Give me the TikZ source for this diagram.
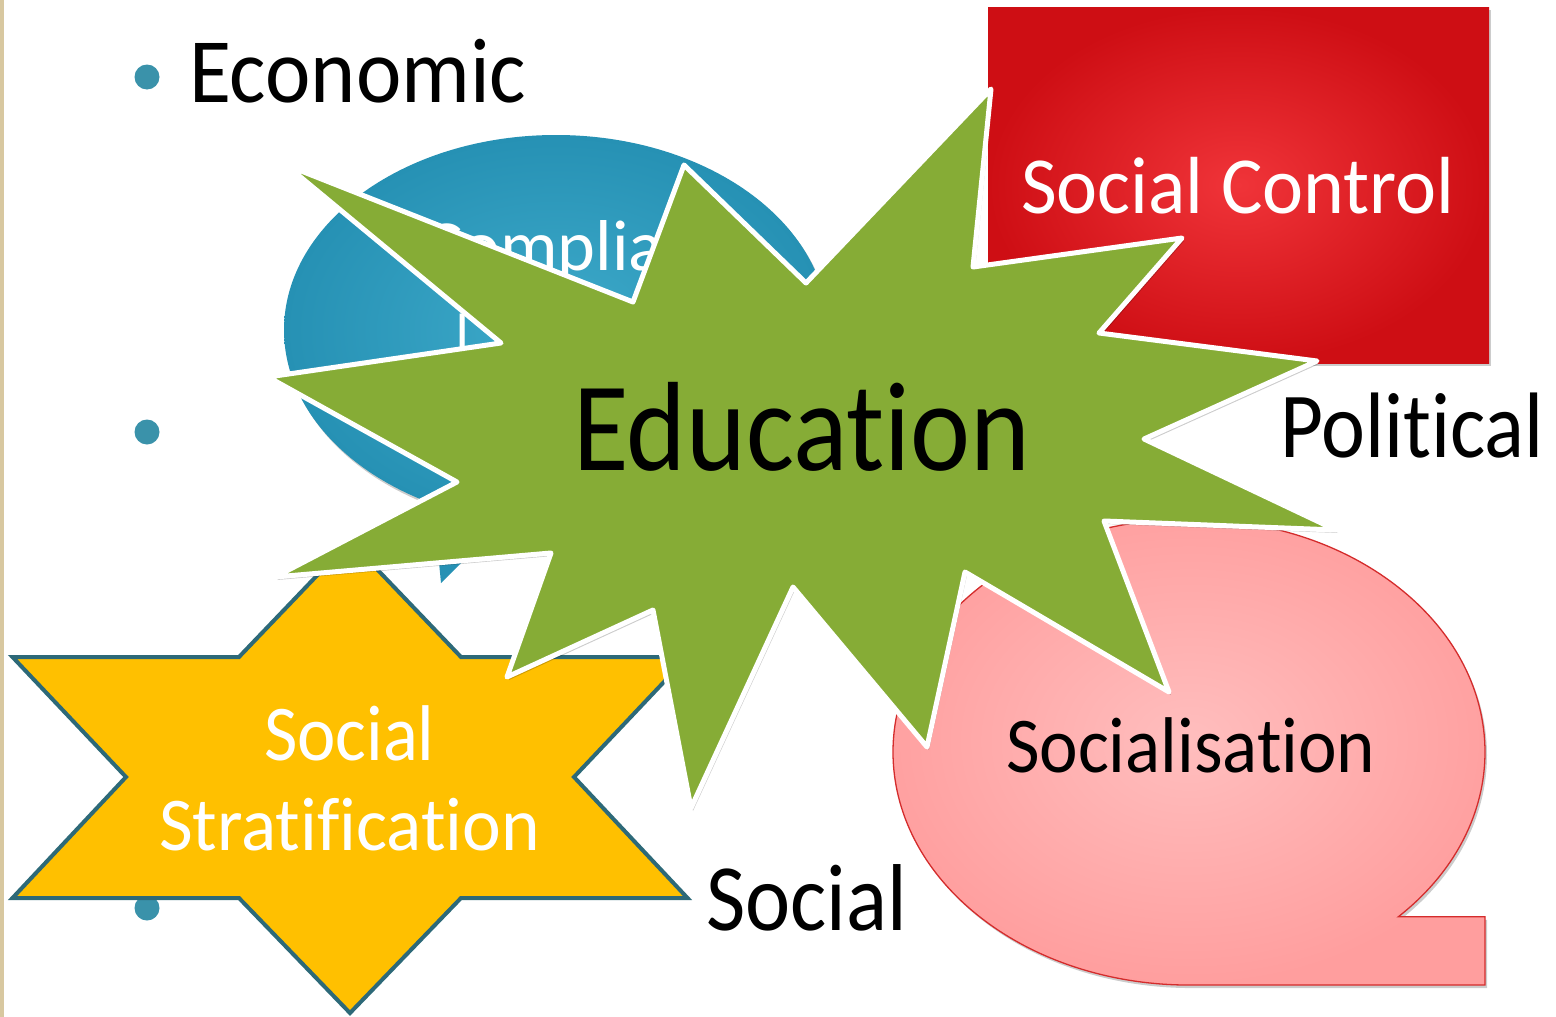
\documentclass[tikz,border=0pt]{standalone}
\usepackage{fontspec}
\setmainfont{Carlito}[Ligatures=NoCommon]
\usetikzlibrary{shadows}
\definecolor{bulletc}{RGB}{58,146,170}
\definecolor{edgebeige}{RGB}{216,200,160}
\definecolor{blueA}{RGB}{62,170,202}
\definecolor{blueB}{RGB}{38,145,180}
\definecolor{redA}{RGB}{240,52,57}
\definecolor{redB}{RGB}{206,14,20}
\definecolor{pinkA}{RGB}{255,190,190}
\definecolor{pinkB}{RGB}{255,158,158}
\definecolor{pinkline}{RGB}{212,44,44}
\definecolor{yel}{RGB}{255,192,0}
\definecolor{yelline}{RGB}{45,105,120}
\definecolor{grn}{RGB}{134,172,54}
\newcommand{\txt}[3]{\scalebox{#2}[1]{\fontsize{#1}{#1}\selectfont #3}}
\tikzset{
  softshadow/.style={drop shadow={shadow xshift=2pt, shadow yshift=-3pt, opacity=0.2, fill=black}},
  lbl/.style={anchor=base west, inner sep=0pt, outer sep=0pt}
}
\begin{document}
\begin{tikzpicture}[x=1pt,y=-1pt]
\useasboundingbox (0,0) rectangle (1556,1017);
\fill[white] (0,0) rectangle (1556,1017);
\fill[edgebeige] (0,0) rectangle (3.5,1017);

% bullets and background texts
\fill[bulletc] (147,77) circle[radius=12.5];
\fill[bulletc] (147,432) circle[radius=12.5];
\fill[bulletc] (147,908) circle[radius=12.5];
\node[lbl] (economic) at (189,102) {\txt{92}{0.935}{Economic}};
\node[lbl] (political) at (1280,457) {\txt{93}{0.895}{Political}};
\node[lbl] (social) at (706,930) {\txt{95}{0.90}{Social}};

% blue oval callout
\fill[blueB] (432,490) -- (520,505) -- (441,583) -- cycle;
\shade[inner color=blueA, outer color=blueB, softshadow] (556,330) ellipse[x radius=272, y radius=195];
\node[lbl, text=white] (compl) at (424,270) {\txt{72}{1}{Compliance}};
\node[lbl, text=white] (compl2) at (455,352) {\txt{60}{0.95}{I}};

% red rectangle
\shade[inner color=redA, outer color=redB, softshadow] (988,7) rectangle (1489,363);
\node[lbl, text=white] (control) at (1021,213) {\txt{81}{0.96}{Social Control}};

% pink magnetic-tape shape
\shade[inner color=pinkA, outer color=pinkB, draw=pinkline, line width=1.3pt, softshadow]
  (1398.3,916.8) arc[start angle=45, end angle=-270, x radius=296, y radius=233]
  -- (1485,985) -- (1485,916.8) -- cycle;
\node[lbl] (socialisation) at (1006,772) {\txt{79}{0.925}{Socialisation}};

% yellow hexagram
\draw[fill=yel, draw=yelline, line width=4pt, line join=miter]
  (12.5,657) -- (239,657) -- (350,541) -- (461,657) -- (687.5,657) -- (574,777)
  -- (687.5,898) -- (461,898) -- (350,1013) -- (239,898) -- (12.5,898) -- (126,777) -- cycle;
\node[lbl, text=white] (strat1) at (264,760) {\txt{79}{0.92}{Social}};
\node[lbl, text=white] (strat2) at (159,850) {\txt{76}{0.965}{Stratification}};

% green explosion
\draw[fill=grn, draw=white, line width=5pt, line join=round, softshadow]
  (286,165) -- (501,343) -- (268,377) -- (457,482) -- (275,577) -- (551,553)
  -- (507,677) -- (653,610) -- (691,808) -- (793,587) -- (927,747) -- (965,572)
  -- (1169,692) -- (1104,521) -- (1336,530) -- (1144,439) -- (1317,361) -- (1099,333)
  -- (1182,238) -- (973,267) -- (991,89) -- (806,283) -- (684,165) -- (633,302) -- cycle;
\node[lbl] (education) at (573,470) {\txt{127}{0.895}{Education}};
\end{tikzpicture}
\end{document}
